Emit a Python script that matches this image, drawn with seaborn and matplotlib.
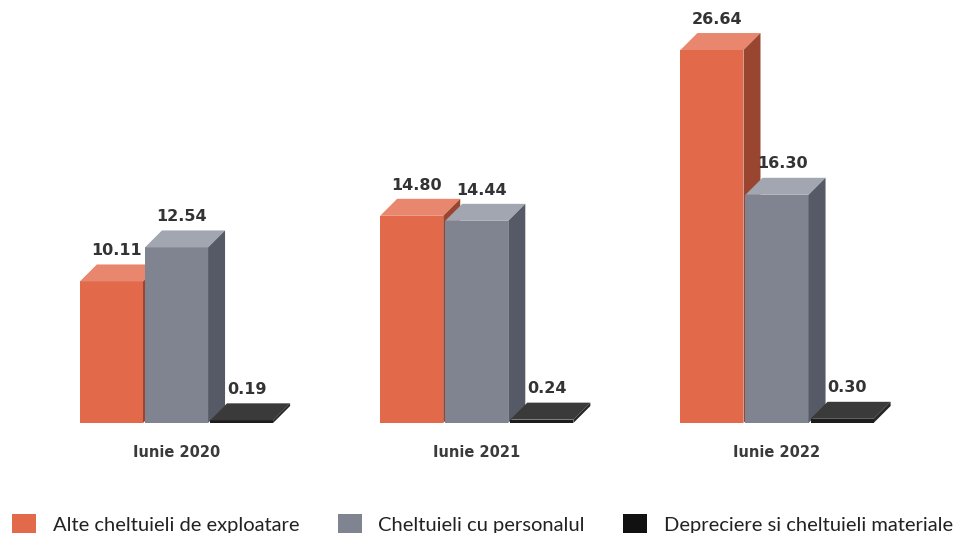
import numpy as np
import pandas as pd
import seaborn as sns
import matplotlib
matplotlib.use("Agg")
import matplotlib.pyplot as plt
from matplotlib.patches import Polygon, Patch

categories = ["Iunie 2020", "Iunie 2021", "Iunie 2022"]
series = ["Alte cheltuieli de exploatare", "Cheltuieli cu personalul", "Depreciere si cheltuieli materiale"]
alte = [10.11, 14.80, 26.64]
personal = [12.54, 14.44, 16.30]
depreciere = [0.19, 0.24, 0.30]

front_colors = ["#E2694A", "#7F8490", "#1C1C1C"]
top_colors = ["#E8876E", "#A2A6B0", "#3A3A3A"]
side_colors = ["#9A4530", "#555A66", "#262626"]
legend_colors = ["#E2694A", "#7F8490", "#111111"]

df = pd.DataFrame({
    "cat": categories * 3,
    "serie": [series[0]] * 3 + [series[1]] * 3 + [series[2]] * 3,
    "val": alte + personal + depreciere,
})

sns.set_style("white")
fig = plt.figure(figsize=(9.56, 5.33), dpi=100)
ax = fig.add_axes([0, 110 / 533, 1, 423 / 533])

sns.barplot(data=df, x="cat", y="val", hue="serie", order=categories, hue_order=series,
            palette=front_colors, width=0.65, gap=0.03, ax=ax, legend=False,
            saturation=1, errorbar=None)

ax.set_xlim(-176.5 / 300.25, (956 - 176.5) / 300.25)
ax.set_ylim(0, 423 / 14.0)

# depth in data units from pixel offsets
dx = 17 / 300.25
dy = 17 / 14.0

for i, cont in enumerate(ax.containers):
    for bar in cont:
        bar.set_zorder(3 + i * 0.1)
        bar.set_edgecolor("none")
        x0 = bar.get_x()
        x1 = x0 + bar.get_width()
        h = bar.get_height()
        top = Polygon([(x0, h), (x1, h), (x1 + dx, h + dy), (x0 + dx, h + dy)],
                      closed=True, facecolor=top_colors[i], edgecolor="none", zorder=3 + i * 0.1)
        side = Polygon([(x1, 0), (x1 + dx, dy), (x1 + dx, h + dy), (x1, h)],
                       closed=True, facecolor=side_colors[i], edgecolor="none", zorder=3 + i * 0.1)
        ax.add_patch(top)
        ax.add_patch(side)
        ax.text(x0 + (x1 - x0) / 2 + dx * 0.3, h + dy + 0.45, f"{h:.2f}", ha="center", va="bottom",
                fontsize=11.5, fontweight="bold", color="#333333", zorder=10,
                family=["DejaVu Sans"])

for s in ax.spines.values():
    s.set_visible(False)
ax.set_yticks([])
ax.set_xlabel("")
ax.set_ylabel("")
ax.tick_params(axis="x", length=0, pad=16)
for lab in ax.get_xticklabels():
    lab.set_fontsize(10.5)
    lab.set_fontweight("bold")
    lab.set_color("#3a3a3a")
    lab.set_family(["DejaVu Sans"])

handles = [Patch(facecolor=c, edgecolor="none") for c in legend_colors]
fs = 14.5
em = fs * 100 / 72
fig.legend(handles, series, loc="center left", bbox_to_anchor=(12 / 956, 1 - 524 / 533), ncol=3,
           frameon=False, borderpad=0, borderaxespad=0,
           handlelength=24 / em, handleheight=24 / em, handletextpad=17 / em, columnspacing=38 / em,
           labelcolor="#222222",
           prop={"family": ["Lato", "DejaVu Sans"], "size": fs})

fig.savefig("out.png", dpi=100)
